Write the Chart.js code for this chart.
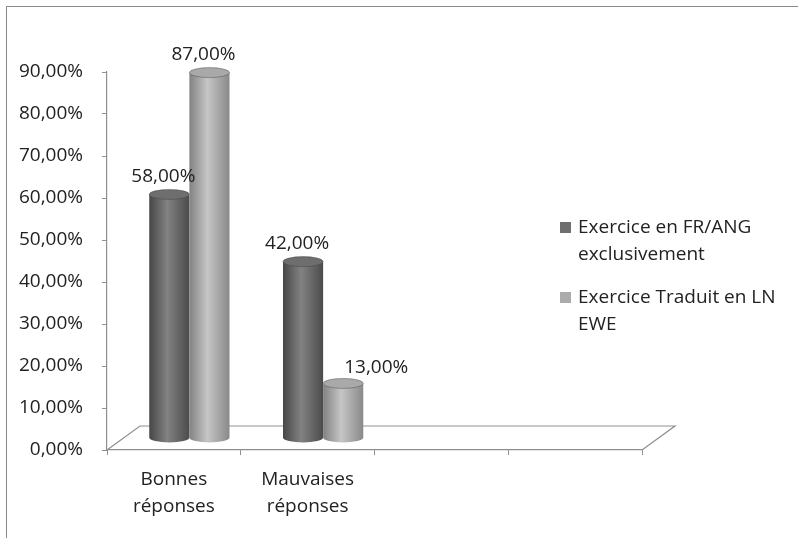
<!DOCTYPE html>
<html>
<head>
<meta charset="utf-8">
<script src="https://cdn.jsdelivr.net/npm/chart.js@4.4.0/dist/chart.umd.min.js"></script>
<style>
  html, body { margin: 0; padding: 0; background: #fff; }
  #wrap { width: 798px; height: 538px; position: relative; }
</style>
</head>
<body>
<div id="wrap"><canvas id="chart"></canvas></div>
<script>
// Chart data
const categories = [['Bonnes', 'réponses'], ['Mauvaises', 'réponses'], '', ''];
const seriesNames = [['Exercice en FR/ANG', 'exclusivement'], ['Exercice Traduit en LN', 'EWE']];
const frAngValues = [0.58, 0.42, null, null];
const traduitValues = [0.87, 0.13, null, null];
const yMax = 0.9;
const yStep = 0.1;

// Cylinder shades: [left edge, highlight, right edge, top]
const darkShades = ['#474747', '#828282', '#4b4b4b', '#6e6e6e'];
const lightShades = ['#828282', '#c6c6c6', '#898989', '#a9a9a9'];
const FONT = '"Open Sans", sans-serif';
const FONT_SIZE = 19;
const TEXT = '#222';
const DEPTH = { x: 33, y: -24 };

function pct(v) {
  return (v * 100).toFixed(2).replace('.', ',') + '%';
}

function drawCylinder(ctx, cx, top, bottom, w, shades) {
  const rx = w / 2, ry = 5;
  const g = ctx.createLinearGradient(cx - rx, 0, cx + rx, 0);
  g.addColorStop(0, shades[0]);
  g.addColorStop(0.45, shades[1]);
  g.addColorStop(1, shades[2]);
  ctx.fillStyle = g;
  ctx.beginPath();
  ctx.moveTo(cx - rx, top);
  ctx.lineTo(cx - rx, bottom);
  ctx.ellipse(cx, bottom, rx, ry, 0, Math.PI, 0, true);
  ctx.lineTo(cx + rx, top);
  ctx.closePath();
  ctx.fill();
  ctx.beginPath();
  ctx.ellipse(cx, top, rx, ry, 0, 0, Math.PI * 2);
  ctx.fillStyle = shades[3];
  ctx.fill();
  ctx.strokeStyle = 'rgba(60,60,60,0.5)';
  ctx.lineWidth = 0.8;
  ctx.stroke();
}

// floor, cylinders, value labels, legend and frame
const excelLook = {
  id: 'excelLook',
  beforeDatasetsDraw(chart) {
    const { ctx, chartArea } = chart;
    const l = chartArea.left, r = chartArea.right, b = chartArea.bottom;
    ctx.save();
    ctx.strokeStyle = '#8f8f8f';
    ctx.lineWidth = 1.2;
    ctx.beginPath();
    ctx.moveTo(l, b);
    ctx.lineTo(l + DEPTH.x, b + DEPTH.y);
    ctx.lineTo(r + DEPTH.x, b + DEPTH.y);
    ctx.lineTo(r, b);
    ctx.stroke();
    ctx.restore();
  },
  afterDatasetsDraw(chart) {
    const { ctx } = chart;
    const shades = [darkShades, lightShades];
    const shift = { x: DEPTH.x / 2 - 1, y: DEPTH.y / 2 };
    ctx.save();
    // draw category by category so neighbours overlap properly
    for (let i = 0; i < categories.length; i++) {
      chart.data.datasets.forEach((ds, d) => {
        const el = chart.getDatasetMeta(d).data[i];
        if (ds.data[i] == null || !el) return;
        drawCylinder(ctx, el.x + shift.x, el.y + shift.y, el.base + shift.y, el.width, shades[d]);
      });
    }
    ctx.font = FONT_SIZE + 'px ' + FONT;
    ctx.fillStyle = TEXT;
    ctx.textAlign = 'center';
    ctx.textBaseline = 'middle';
    chart.data.datasets.forEach((ds, d) => {
      chart.getDatasetMeta(d).data.forEach((el, i) => {
        if (ds.data[i] == null) return;
        const off = (d === 1 && i === 1) ? [33, -16] : [-6, -18];
        ctx.fillText(pct(ds.data[i]), el.x + shift.x + off[0], el.y + shift.y + off[1]);
      });
    });
    ctx.restore();
  },
  afterDraw(chart) {
    const { ctx, chartArea } = chart;
    ctx.save();
    // legend
    const lx = chartArea.right - 82;
    const ly = [228, 298];
    ctx.font = FONT_SIZE + 'px ' + FONT;
    ctx.textBaseline = 'middle';
    ctx.textAlign = 'left';
    seriesNames.forEach((name, d) => {
      ctx.fillStyle = d === 0 ? '#6f6f6f' : '#ababab';
      ctx.fillRect(lx, ly[d] - 6, 11, 11);
      ctx.fillStyle = TEXT;
      name.forEach((line, k) => ctx.fillText(line, lx + 18, ly[d] + k * 27));
    });
    // chart frame
    ctx.strokeStyle = '#8a8a8a';
    ctx.lineWidth = 1;
    ctx.strokeRect(6.5, 6.5, 820, 560);
    ctx.restore();
  }
};

new Chart(document.getElementById('chart'), {
  type: 'bar',
  data: {
    labels: categories,
    datasets: [
      { label: seriesNames[0].join(' '), data: frAngValues, backgroundColor: 'rgba(0,0,0,0)' },
      { label: seriesNames[1].join(' '), data: traduitValues, backgroundColor: 'rgba(0,0,0,0)' }
    ]
  },
  options: {
    responsive: true,
    maintainAspectRatio: false,
    animation: false,
    layout: { padding: { left: 0, top: 72, right: 156, bottom: 0 } },
    datasets: { bar: { categoryPercentage: 0.6, barPercentage: 1 } },
    plugins: {
      legend: { display: false },
      tooltip: { enabled: false }
    },
    scales: {
      x: {
        afterFit: (scale) => { scale.height = 88; },
        border: { display: true, color: '#8f8f8f', width: 1.2 },
        grid: { display: true, offset: true, drawOnChartArea: false, drawTicks: true, tickLength: 5, color: '#8f8f8f' },
        ticks: { color: TEXT, font: { family: FONT, size: FONT_SIZE, lineHeight: 1.42 }, padding: 11, maxRotation: 0 }
      },
      y: {
        min: 0,
        max: yMax,
        afterFit: (scale) => { scale.width = 107; },
        border: { display: true, color: '#8f8f8f', width: 1.2 },
        grid: { display: true, drawOnChartArea: false, drawTicks: true, tickLength: 5, color: '#8f8f8f' },
        ticks: {
          stepSize: yStep,
          color: TEXT,
          font: { family: FONT, size: FONT_SIZE },
          padding: 19,
          callback: (v) => pct(v)
        }
      }
    }
  },
  plugins: [excelLook]
});
</script>
</body>
</html>
